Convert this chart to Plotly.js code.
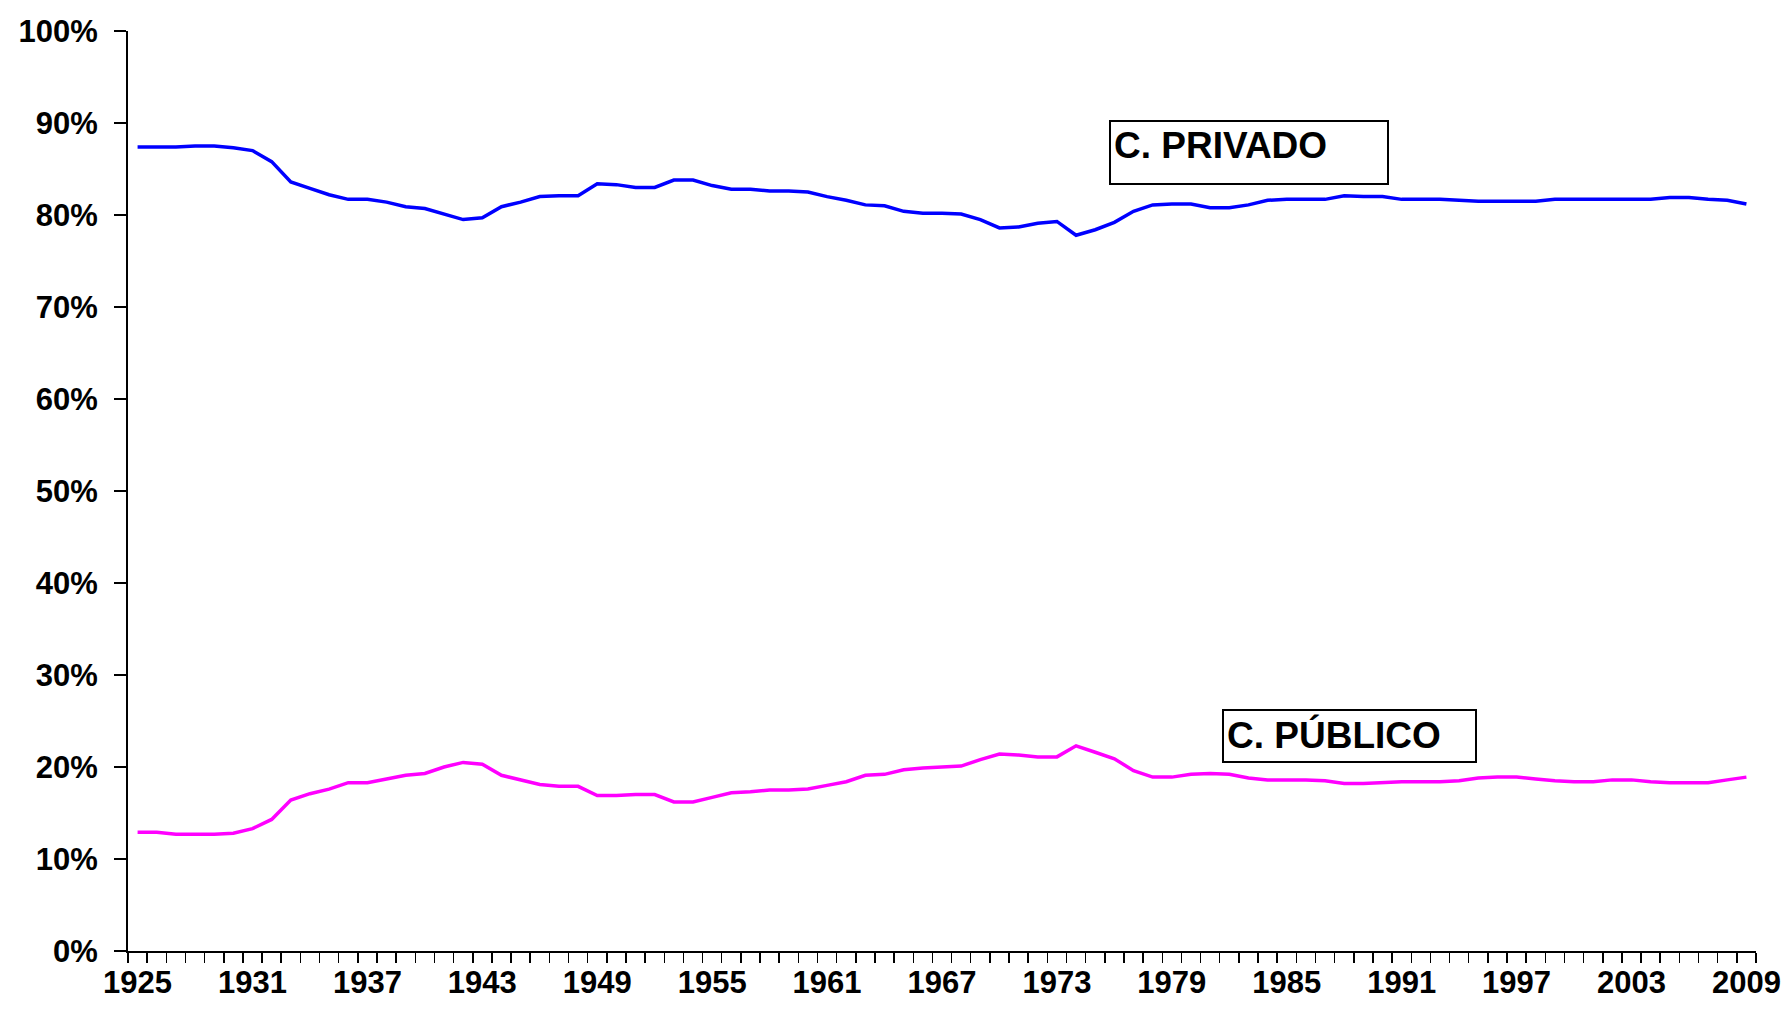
<!DOCTYPE html>
<html>
<head>
<meta charset="utf-8">
<script src="https://cdn.plot.ly/plotly-3.0.1.min.js"></script>
<style>
  html, body { margin: 0; padding: 0; background: #fff; }
  #chart { width: 1783px; height: 1015px; }
</style>
</head>
<body>
<div id="chart"></div>
<script>
const years = [1925,1926,1927,1928,1929,1930,1931,1932,1933,1934,
  1935,1936,1937,1938,1939,1940,1941,1942,1943,1944,
  1945,1946,1947,1948,1949,1950,1951,1952,1953,1954,
  1955,1956,1957,1958,1959,1960,1961,1962,1963,1964,
  1965,1966,1967,1968,1969,1970,1971,1972,1973,1974,
  1975,1976,1977,1978,1979,1980,1981,1982,1983,1984,
  1985,1986,1987,1988,1989,1990,1991,1992,1993,1994,
  1995,1996,1997,1998,1999,2000,2001,2002,2003,2004,
  2005,2006,2007,2008,2009];

const privado = [87.4,87.4,87.4,87.5,87.5,87.3,87.0,85.8,83.6,82.9,
  82.2,81.7,81.7,81.4,80.9,80.7,80.1,79.5,79.7,80.9,
  81.4,82.0,82.1,82.1,83.4,83.3,83.0,83.0,83.8,83.8,
  83.2,82.8,82.8,82.6,82.6,82.5,82.0,81.6,81.1,81.0,
  80.4,80.2,80.2,80.1,79.5,78.6,78.7,79.1,79.3,77.8,
  78.4,79.2,80.4,81.1,81.2,81.2,80.8,80.8,81.1,81.6,
  81.7,81.7,81.7,82.1,82.0,82.0,81.7,81.7,81.7,81.6,
  81.5,81.5,81.5,81.5,81.7,81.7,81.7,81.7,81.7,81.7,
  81.9,81.9,81.7,81.6,81.2];

const publico = [12.9,12.9,12.7,12.7,12.7,12.8,13.3,14.3,16.4,17.1,
  17.6,18.3,18.3,18.7,19.1,19.3,20.0,20.5,20.3,19.1,
  18.6,18.1,17.9,17.9,16.9,16.9,17.0,17.0,16.2,16.2,
  16.7,17.2,17.3,17.5,17.5,17.6,18.0,18.4,19.1,19.2,
  19.7,19.9,20.0,20.1,20.8,21.4,21.3,21.1,21.1,22.3,
  21.6,20.9,19.6,18.9,18.9,19.2,19.3,19.2,18.8,18.6,
  18.6,18.6,18.5,18.2,18.2,18.3,18.4,18.4,18.4,18.5,
  18.8,18.9,18.9,18.7,18.5,18.4,18.4,18.6,18.6,18.4,
  18.3,18.3,18.3,18.6,18.9];

const xTickLabels = [1925,1931,1937,1943,1949,1955,1961,1967,1973,1979,1985,1991,1997,2003,2009];
const yTicks = [0,10,20,30,40,50,60,70,80,90,100];

const labelPrivado = "C. PRIVADO";
const labelPublico = "C. PÚBLICO";

const FONT = "Liberation Sans, Arial, sans-serif";

const traces = [
  { x: years, y: privado, type: "scatter", mode: "lines", name: labelPrivado,
    line: { color: "#0000FF", width: 3.5 }, hoverinfo: "x+y" },
  { x: years, y: publico, type: "scatter", mode: "lines", name: labelPublico,
    line: { color: "#FF00FF", width: 3.5 }, hoverinfo: "x+y" }
];

const layout = {
  width: 1783, height: 1015,
  paper_bgcolor: "#fff", plot_bgcolor: "#fff",
  showlegend: false,
  margin: { l: 128, r: 27, t: 31, b: 64, pad: 0 },
  font: { family: FONT, color: "#000", size: 31 },
  xaxis: {
    range: [1924.5, 2009.5],
    tickmode: "array", tickvals: xTickLabels, ticktext: xTickLabels.map(String),
    ticks: "outside", ticklen: 1, tickcolor: "rgba(0,0,0,0)",
    minor: { tick0: 1924.5, dtick: 1, ticks: "outside", ticklen: 10, tickwidth: 1.5, tickcolor: "#000", showgrid: false },
    showline: true, linecolor: "#000", linewidth: 2,
    showgrid: false, zeroline: false,
    tickfont: { family: FONT, size: 31, color: "#000", weight: "bold" },
    ticklabelstandoff: 2
  },
  yaxis: {
    range: [0, 100],
    tickmode: "array", tickvals: yTicks, ticktext: yTicks.map(v => v + "%"),
    ticks: "outside", ticklen: 12, tickwidth: 1.5, tickcolor: "#000",
    showline: true, linecolor: "#000", linewidth: 2,
    showgrid: false, zeroline: false,
    tickfont: { family: FONT, size: 31, color: "#000", weight: "bold" },
    ticklabelstandoff: 10
  },
  annotations: [
    { xref: "paper", yref: "paper", x: 0.6886, y: 0.8676, xanchor: "center", yanchor: "middle",
      text: "<b>" + labelPrivado + "</b>", showarrow: false, align: "left", valign: "top",
      width: 270, height: 55, borderpad: 3,
      bordercolor: "#000", borderwidth: 2, bgcolor: "#fff",
      font: { family: FONT, size: 37, color: "#000" } },
    { xref: "paper", yref: "paper", x: 0.7502, y: 0.2333, xanchor: "center", yanchor: "middle",
      text: "<b>" + labelPublico + "</b>", showarrow: false, align: "left", valign: "top",
      width: 245, height: 44, borderpad: 3,
      bordercolor: "#000", borderwidth: 2, bgcolor: "#fff",
      font: { family: FONT, size: 37, color: "#000" } }
  ]
};

Plotly.newPlot("chart", traces, layout, { displayModeBar: false, staticPlot: true });
</script>
</body>
</html>
